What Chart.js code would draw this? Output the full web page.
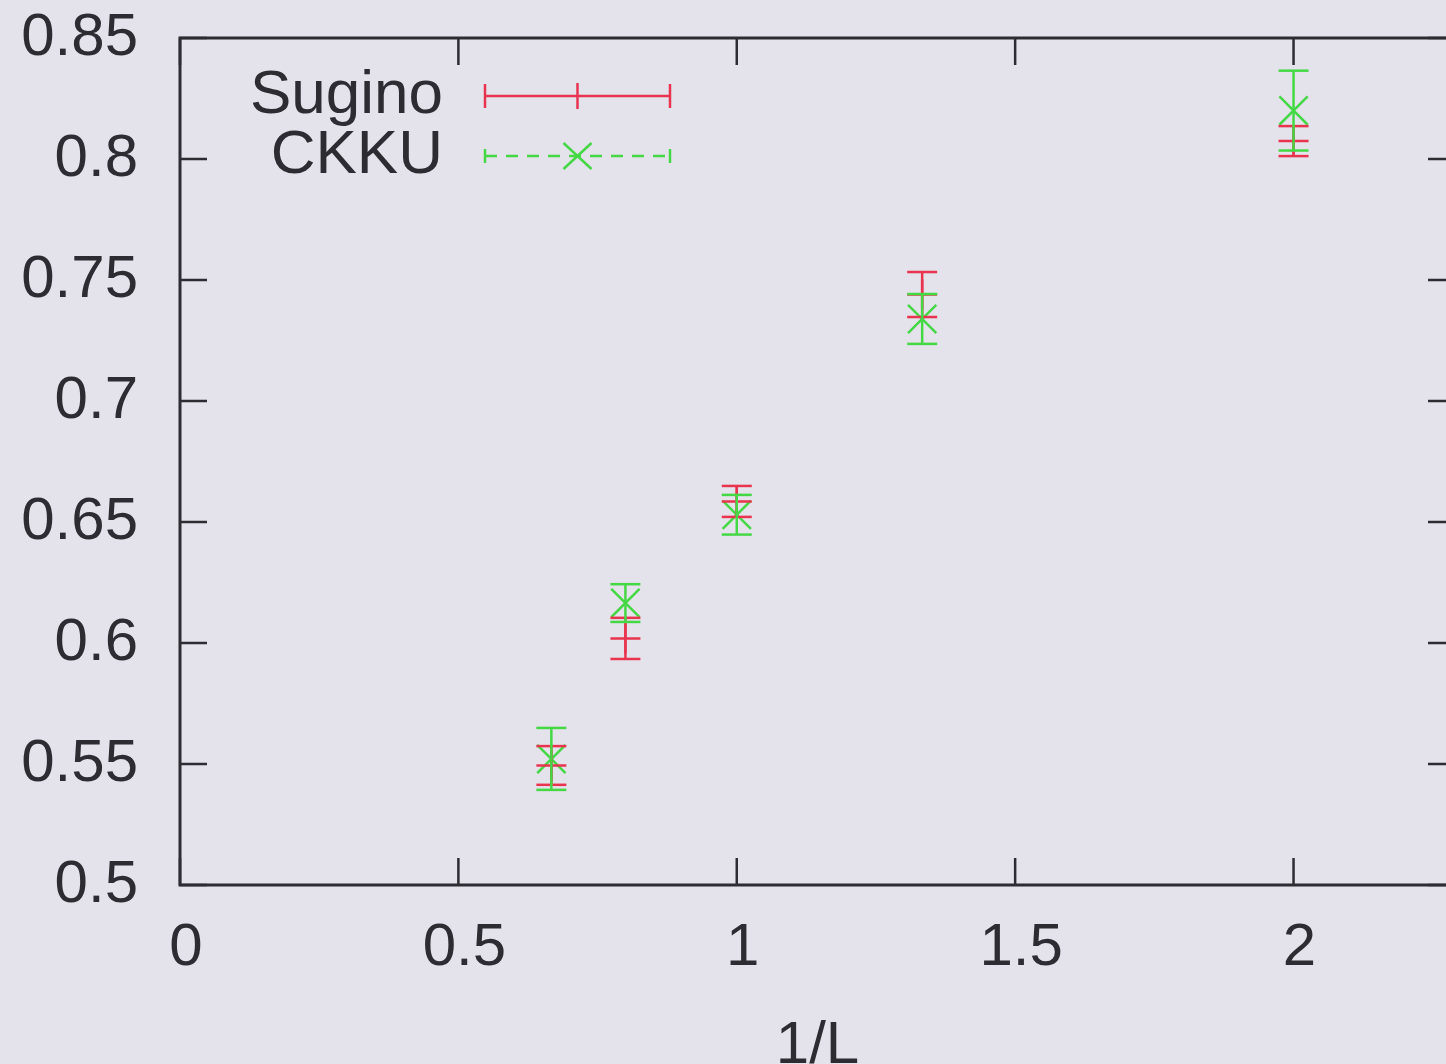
<!DOCTYPE html>
<html>
<head>
<meta charset="utf-8">
<script src="https://cdn.jsdelivr.net/npm/chart.js@4.4.0/dist/chart.umd.min.js"></script>
<style>
  html, body { margin: 0; padding: 0; background: #e4e2ea; overflow: hidden; }
  #wrap { width: 1446px; height: 1064px; overflow: hidden; position: relative; }
  #wrap canvas { position: absolute; left: 0; top: 0; }
</style>
</head>
<body>
<div id="wrap"><canvas id="chart" width="1480" height="1064" style="width:1480px;height:1064px"></canvas></div>
<script>
// 1/L values
const xValues = [0.667, 0.8, 1, 1.333, 2];
// Sugino
const suginoY = [0.5494, 0.6019, 0.6585, 0.744, 0.8074];
const suginoErr = [0.008, 0.0085, 0.0064, 0.0093, 0.0062];
// CKKU
const ckkuY = [0.5521, 0.6165, 0.653, 0.7339, 0.820];
const ckkuErr = [0.0128, 0.0078, 0.0082, 0.0103, 0.0165];

const xTicks = [0, 0.5, 1, 1.5, 2];
const yTicks = [0.5, 0.55, 0.6, 0.65, 0.7, 0.75, 0.8, 0.85];

const RED = '#e8344f';
const GREEN = '#45d845';
const INK = '#2c2c32';
const FONT = 'Liberation Sans, Arial, Helvetica, sans-serif';

const toPoints = ys => xValues.map((x, i) => ({ x: x, y: ys[i] }));

function seg(ctx, x1, y1, x2, y2) {
  ctx.beginPath(); ctx.moveTo(x1, y1); ctx.lineTo(x2, y2); ctx.stroke();
}

// vertical error bars with caps
const errorBars = {
  id: 'errorBars',
  afterDatasetsDraw(chart) {
    const { ctx, scales: { x, y } } = chart;
    chart.data.datasets.forEach(ds => {
      ctx.save();
      ctx.strokeStyle = ds.borderColor;
      ctx.lineWidth = 2.5;
      ds.data.forEach((p, i) => {
        const px = x.getPixelForValue(p.x);
        const top = y.getPixelForValue(p.y + ds.errors[i]);
        const bot = y.getPixelForValue(p.y - ds.errors[i]);
        seg(ctx, px, top, px, bot);
        seg(ctx, px - 15, top, px + 15, top);
        seg(ctx, px - 15, bot, px + 15, bot);
      });
      ctx.restore();
    });
  }
};

// frame with inward ticks on all sides
const frame = {
  id: 'frame',
  afterDraw(chart) {
    const { ctx, chartArea: a, scales: { x, y } } = chart;
    ctx.save();
    ctx.strokeStyle = INK;
    ctx.lineWidth = 3;
    ctx.strokeRect(a.left, a.top, a.right - a.left, a.bottom - a.top);
    ctx.lineWidth = 2.5;
    const tl = 27;
    xTicks.forEach(v => {
      const px = x.getPixelForValue(v);
      seg(ctx, px, a.bottom, px, a.bottom - tl);
      seg(ctx, px, a.top, px, a.top + tl);
    });
    yTicks.forEach(v => {
      const py = y.getPixelForValue(v);
      seg(ctx, a.left, py, a.left + tl, py);
      seg(ctx, a.right, py, a.right - tl, py);
    });
    ctx.restore();
  }
};

// gnuplot style key
const key = {
  id: 'key',
  afterDraw(chart) {
    const { ctx } = chart;
    const textRight = 443, x1 = 485, x2 = 670, xm = (x1 + x2) / 2;
    const rows = [
      { label: 'Sugino', y: 96, color: RED, dash: [], mark: 'plus' },
      { label: 'CKKU', y: 156, color: GREEN, dash: [12, 9], mark: 'x' }
    ];
    ctx.save();
    ctx.font = '62px ' + FONT;
    ctx.fillStyle = INK;
    ctx.textAlign = 'right';
    ctx.textBaseline = 'middle';
    rows.forEach(r => {
      ctx.fillText(r.label, textRight, r.y);
      ctx.strokeStyle = r.color;
      ctx.lineWidth = 2.5;
      ctx.setLineDash(r.dash);
      seg(ctx, x1, r.y, x2, r.y);
      ctx.setLineDash([]);
      const capH = r.mark === 'plus' ? 12 : 7;
      seg(ctx, x1, r.y - capH, x1, r.y + capH);
      seg(ctx, x2, r.y - capH, x2, r.y + capH);
      if (r.mark === 'plus') {
        seg(ctx, xm, r.y - 13, xm, r.y + 13);
      } else {
        seg(ctx, xm - 14, r.y - 13, xm + 14, r.y + 13);
        seg(ctx, xm - 14, r.y + 13, xm + 14, r.y - 13);
      }
    });
    ctx.restore();
  }
};

new Chart(document.getElementById('chart').getContext('2d'), {
  type: 'scatter',
  data: {
    datasets: [
      {
        label: 'Sugino',
        data: toPoints(suginoY),
        errors: suginoErr,
        borderColor: RED,
        backgroundColor: RED,
        pointStyle: 'cross',
        pointRadius: 15,
        pointBorderWidth: 2.5
      },
      {
        label: 'CKKU',
        data: toPoints(ckkuY),
        errors: ckkuErr,
        borderColor: GREEN,
        backgroundColor: GREEN,
        pointStyle: 'crossRot',
        pointRadius: 20,
        pointBorderWidth: 2.5
      }
    ]
  },
  options: {
    responsive: false,
    animation: false,
    layout: { padding: { top: 38, right: 25, left: 0, bottom: 0 } },
    plugins: { legend: { display: false }, tooltip: { enabled: false } },
    scales: {
      x: {
        type: 'linear',
        min: 0,
        max: 2.29,
        afterFit: s => { s.height = 179; },
        grid: { display: false, drawTicks: false },
        border: { display: false },
        ticks: {
          stepSize: 0.5,
          includeBounds: false,
          padding: 27,
          labelOffset: 6,
          color: INK,
          font: { family: FONT, size: 60 },
          callback: v => String(Number(v.toFixed(2)))
        },
        title: {
          display: true,
          text: '1/L',
          color: INK,
          font: { family: FONT, size: 60, lineHeight: 0.8 },
          padding: { top: -6, bottom: -6 }
        }
      },
      y: {
        min: 0.5,
        max: 0.85,
        afterFit: s => { s.width = 180; s.paddingTop = 0; },
        grid: { display: false, drawTicks: false },
        border: { display: false },
        ticks: {
          stepSize: 0.05,
          includeBounds: false,
          padding: 42,
          color: INK,
          font: { family: FONT, size: 60 },
          callback: v => String(Number(v.toFixed(2)))
        }
      }
    }
  },
  plugins: [errorBars, frame, key]
});
</script>
</body>
</html>
